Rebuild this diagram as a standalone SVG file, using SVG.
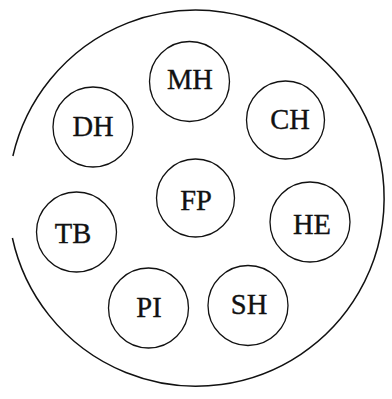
<svg xmlns="http://www.w3.org/2000/svg" width="392" height="399" viewBox="0 0 392 399">
<style>
.n{fill:none;stroke:#111;stroke-width:1.3}
.t{font-family:"Liberation Serif","Times New Roman",serif;font-size:28.5px;fill:#111;stroke:#111;stroke-width:0.35;text-anchor:middle}
.o{fill:none;stroke:#111;stroke-width:1.5}
</style>
<rect width="392" height="399" fill="#fff"/>
<g id="boundary"><path class="o" d="M 12.9 156 A 188 188 0 1 1 12.4 238"/></g>
<g id="connectors"></g>
<g id="MH"><circle class="n" cx="189.5" cy="81.5" r="40"/><text class="t" x="190" y="88.5">MH</text></g>
<g id="DH"><circle class="n" cx="93" cy="127" r="40"/><text class="t" x="93" y="136">DH</text></g>
<g id="CH"><circle class="n" cx="285.5" cy="120" r="39"/><text class="t" x="290" y="128.5">CH</text></g>
<g id="FP"><circle class="n" cx="195.5" cy="198" r="39"/><text class="t" x="196" y="210">FP</text></g>
<g id="TB"><circle class="n" cx="76.5" cy="232" r="40"/><text class="t" x="73" y="242.5">TB</text></g>
<g id="HE"><circle class="n" cx="310" cy="222" r="40"/><text class="t" x="312" y="233.5">HE</text></g>
<g id="PI"><circle class="n" cx="148.5" cy="308" r="40"/><text class="t" x="149" y="317">PI</text></g>
<g id="SH"><circle class="n" cx="248" cy="305.5" r="40"/><text class="t" x="249" y="314">SH</text></g>
</svg>
